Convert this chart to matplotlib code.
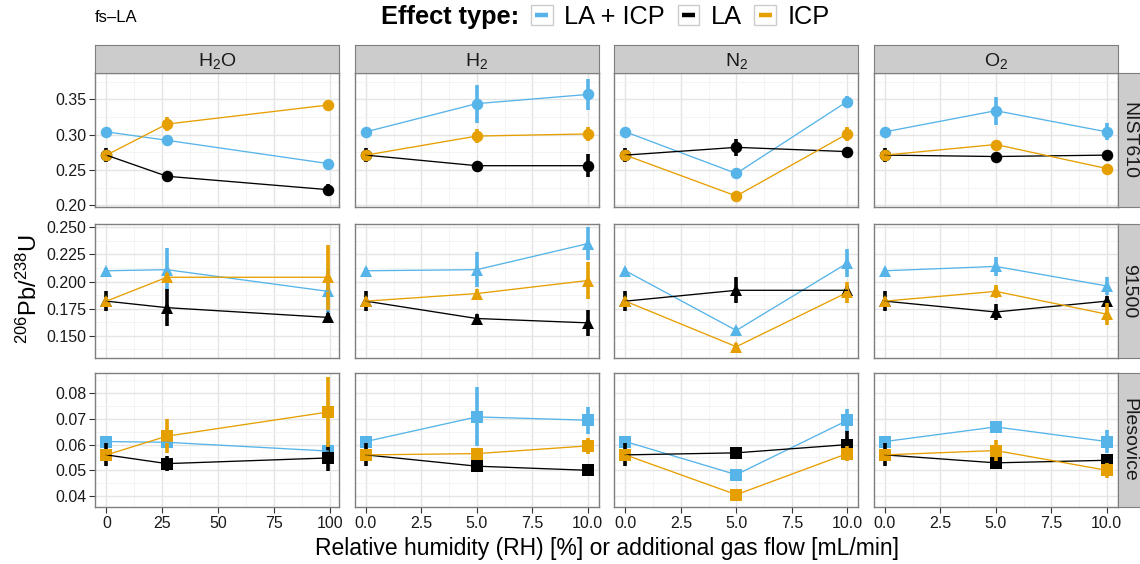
import numpy as np
import matplotlib
matplotlib.use('Agg')
import matplotlib.pyplot as plt
from matplotlib.lines import Line2D
from matplotlib.patches import Rectangle
from matplotlib.legend_handler import HandlerBase

plt.rcParams['font.family'] = ['Liberation Sans', 'DejaVu Sans']
plt.rcParams['mathtext.fontset'] = 'custom'
plt.rcParams['mathtext.rm'] = 'Liberation Sans'
plt.rcParams['mathtext.it'] = 'Liberation Sans:italic'
plt.rcParams['mathtext.default'] = 'regular'

# ---- data ----
gas_labels = ['H$_2$O', 'H$_2$', 'N$_2$', 'O$_2$']
materials = ['NIST610', '91500', 'Plesovice']
effects = ['LA + ICP', 'LA', 'ICP']
colors = ['#56B4E9', '#000000', '#E69F00']
markers = ['o', '^', 's']

x_rh = [0, 27, 99]        # relative humidity [%]
x_flow = [0, 5, 10]       # gas flow [mL/min]

# [gas][effect][point]  gas: H2O, H2, N2, O2 ; effect: LA+ICP, LA, ICP
nist610_mean = [
    [[0.304, 0.292, 0.259], [0.271, 0.241, 0.222], [0.271, 0.315, 0.342]],
    [[0.304, 0.344, 0.357], [0.271, 0.256, 0.256], [0.271, 0.298, 0.301]],
    [[0.304, 0.245, 0.347], [0.271, 0.282, 0.276], [0.271, 0.213, 0.301]],
    [[0.304, 0.334, 0.304], [0.271, 0.269, 0.271], [0.271, 0.286, 0.252]],
]
nist610_err = [
    [[0.004, 0.004, 0.005], [0.010, 0.004, 0.008], [0.005, 0.010, 0.006]],
    [[0.004, 0.027, 0.022], [0.010, 0.004, 0.016], [0.005, 0.010, 0.010]],
    [[0.004, 0.004, 0.008], [0.010, 0.012, 0.004], [0.005, 0.004, 0.010]],
    [[0.004, 0.020, 0.012], [0.010, 0.004, 0.004], [0.005, 0.004, 0.004]],
]
z91500_mean = [
    [[0.210, 0.211, 0.191], [0.182, 0.176, 0.167], [0.182, 0.204, 0.204]],
    [[0.210, 0.211, 0.235], [0.182, 0.166, 0.162], [0.182, 0.189, 0.201]],
    [[0.210, 0.155, 0.217], [0.182, 0.192, 0.192], [0.182, 0.140, 0.190]],
    [[0.210, 0.214, 0.196], [0.182, 0.172, 0.182], [0.182, 0.191, 0.170]],
]
z91500_err = [
    [[0.003, 0.020, 0.021], [0.009, 0.017, 0.004], [0.004, 0.004, 0.030]],
    [[0.003, 0.016, 0.015], [0.009, 0.004, 0.012], [0.004, 0.004, 0.017]],
    [[0.003, 0.003, 0.013], [0.009, 0.012, 0.004], [0.004, 0.003, 0.010]],
    [[0.003, 0.009, 0.008], [0.009, 0.007, 0.005], [0.004, 0.006, 0.010]],
]
plesovice_mean = [
    [[0.0612, 0.0609, 0.0575], [0.0560, 0.0526, 0.0548], [0.0560, 0.0633, 0.0727]],
    [[0.0612, 0.0708, 0.0695], [0.0560, 0.0516, 0.0500], [0.0560, 0.0565, 0.0595]],
    [[0.0612, 0.0483, 0.0694], [0.0560, 0.0568, 0.0600], [0.0560, 0.0405, 0.0565]],
    [[0.0612, 0.0669, 0.0612], [0.0560, 0.0529, 0.0539], [0.0560, 0.0577, 0.0500]],
]
plesovice_err = [
    [[0.0010, 0.0010, 0.0040], [0.0045, 0.0030, 0.0050], [0.0010, 0.0065, 0.0135]],
    [[0.0010, 0.0115, 0.0052], [0.0045, 0.0020, 0.0010], [0.0010, 0.0010, 0.0030]],
    [[0.0010, 0.0010, 0.0045], [0.0045, 0.0020, 0.0055], [0.0010, 0.0010, 0.0030]],
    [[0.0010, 0.0010, 0.0045], [0.0045, 0.0010, 0.0010], [0.0010, 0.0040, 0.0030]],
]

means = [nist610_mean, z91500_mean, plesovice_mean]
errs = [nist610_err, z91500_err, plesovice_err]

ylims = [(0.197, 0.387), (0.1296, 0.2531), (0.0357, 0.0879)]
yticks = [[0.20, 0.25, 0.30, 0.35],
          [0.150, 0.175, 0.200, 0.225, 0.250],
          [0.04, 0.05, 0.06, 0.07, 0.08]]
yfmt = ['%.2f', '%.3f', '%.2f']


class KeyHandler(HandlerBase):
    def create_artists(self, legend, orig_handle, xdescent, ydescent,
                       width, height, fontsize, trans):
        box = Rectangle((-xdescent, -ydescent), width, height, fc='white',
                        ec='#CCCCCC', lw=1.0, transform=trans)
        y = -ydescent + height / 2
        ln = Line2D([-xdescent + width * 0.2, -xdescent + width * 0.8], [y, y],
                    color=orig_handle.get_color(), lw=3.2, transform=trans,
                    solid_capstyle='butt')
        return [box, ln]


W, H = 1140, 564
fig = plt.figure(figsize=(W / 100, H / 100), dpi=100)


def px_axes(l, t, w, h):
    return fig.add_axes([l / W, 1 - (t + h) / H, w / W, h / H])


col_left = [95.3, 354.8, 614.3, 873.8]
row_top = [73.3, 224.0, 373.0]
pw, ph = 244, 134
strip = 28
border = '#7F7F7F'
txtc = '#1A1A1A'

for r in range(3):
    for c in range(4):
        ax = px_axes(col_left[c], row_top[r], pw, ph)
        xs = x_rh if c == 0 else x_flow
        if c == 0:
            ax.set_xlim(-4.95, 103.95)
            ax.set_xticks([0, 25, 50, 75, 100])
            ax.set_xticklabels(['0', '25', '50', '75', '100'])
            ax.set_xticks([12.5, 37.5, 62.5, 87.5], minor=True)
        else:
            ax.set_xlim(-0.5, 10.5)
            ax.set_xticks([0, 2.5, 5, 7.5, 10])
            ax.set_xticklabels(['0.0', '2.5', '5.0', '7.5', '10.0'])
            ax.set_xticks([1.25, 3.75, 6.25, 8.75], minor=True)
        yt = yticks[r]
        ax.set_yticks(yt)
        ax.set_yticklabels([yfmt[r] % v for v in yt])
        step = yt[1] - yt[0]
        ax.set_yticks([yt[0] - step / 2] + [v + step / 2 for v in yt], minor=True)
        ax.set_ylim(*ylims[r])

        ax.grid(which='major', color='#E5E5E5', lw=1.0)
        ax.grid(which='minor', color='#F2F2F2', lw=0.6)
        ax.set_axisbelow(True)
        for s in ax.spines.values():
            s.set_color(border)
            s.set_linewidth(1.0)
        ax.tick_params(which='minor', length=0)
        ax.tick_params(which='major', length=4, width=0.8, color='#333333',
                       labelsize=11.5, labelcolor=txtc, pad=2.5)
        if c > 0:
            ax.tick_params(axis='y', length=0, labelleft=False)
        if r < 2:
            ax.tick_params(axis='x', length=0, labelbottom=False)

        m = means[r][c]
        e = errs[r][c]
        # ranges + points first (blue, black, orange), connecting lines on top
        for k in range(3):
            mv = np.array(m[k])
            ev = np.array(e[k])
            ax.vlines(xs, mv - ev, mv + ev, color=colors[k], lw=2.6, zorder=2)
            ax.plot(xs, mv, ls='none', marker=markers[r], ms=9 if r == 1 else 8.3,
                    mfc=colors[k], mec=colors[k], mew=0, zorder=2)
        for k in range(3):
            ax.plot(xs, m[k], color=colors[k], lw=0.95, zorder=3)

# strips
for c in range(4):
    sa = px_axes(col_left[c], row_top[0] - strip, pw, strip)
    sa.set_facecolor('#CCCCCC')
    sa.set_xticks([])
    sa.set_yticks([])
    for s in sa.spines.values():
        s.set_color(border)
    sa.text(0.5, 0.45, gas_labels[c], transform=sa.transAxes, ha='center',
            va='center', fontsize=14, color=txtc)
for r in range(3):
    sa = px_axes(col_left[3] + pw, row_top[r], strip, ph)
    sa.set_facecolor('#CCCCCC')
    sa.set_xticks([])
    sa.set_yticks([])
    for s in sa.spines.values():
        s.set_color(border)
    sa.text(0.40, 0.5, materials[r], transform=sa.transAxes, ha='center',
            va='center', fontsize=14, color=txtc, rotation=-90)

# labels
fig.text(606.7 / W, 1 - 548 / H,
         'Relative humidity (RH) [%] or additional gas flow [mL/min]',
         ha='center', va='center', fontsize=16.5, color='black')
fig.text(29 / W, 1 - 289 / H, r'$^{206}$Pb/$^{238}$U', rotation=90,
         ha='center', va='center', fontsize=17, color='black')
fig.text(95 / W, 1 - 18 / H, 'fs\u2013LA', ha='left', va='center', fontsize=12)

# legend
fig.text(519 / W, 1 - 17 / H, 'Effect type:', ha='right', va='center',
         fontsize=18.3, fontweight='bold')
handles = [Line2D([], [], color=col) for col in colors]
fig.legend(handles, effects, loc='center left',
           bbox_to_anchor=(531 / W, 1 - 17 / H), ncol=3, frameon=False,
           fontsize=18.3, borderpad=0, borderaxespad=0, handlelength=0.85,
           handleheight=0.85, handletextpad=0.45, columnspacing=0.5,
           handler_map={Line2D: KeyHandler()})

fig.savefig('out.png', dpi=100)
